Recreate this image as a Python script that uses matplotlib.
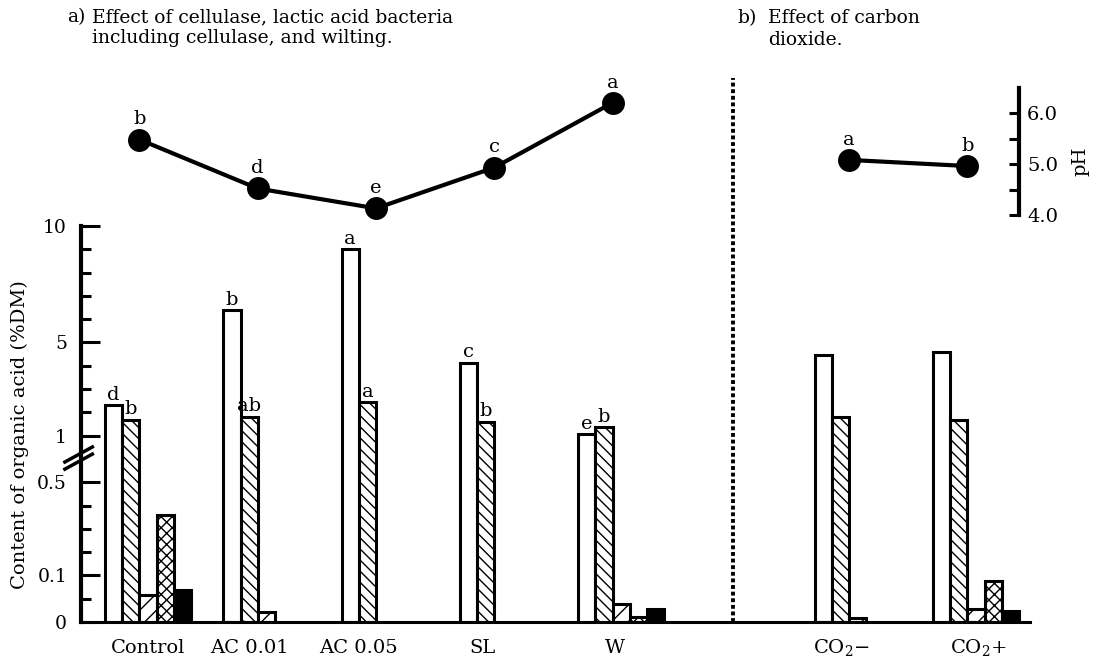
import numpy as np
import matplotlib
matplotlib.use("Agg")
import matplotlib.pyplot as plt
import matplotlib.transforms as mtransforms

plt.rcParams["font.family"] = "DejaVu Serif"
plt.rcParams["mathtext.fontset"] = "dejavuserif"
plt.rcParams["hatch.linewidth"] = 1.0

# treatments (gap between W and CO2 groups)
groups = ["Control", "AC 0.01", "AC 0.05", "SL", "W", "CO$_2$\u2212", "CO$_2$+"]
group_pos = np.array([0, 1, 2, 3, 4, 6, 7])

# organic acid content (%DM), one list per bar style, nan = not drawn
acid_open = [2.31, 6.39, 9.0, 4.13, 1.06, 4.46, 4.6]
acid_back = [1.67, 1.81, 2.43, 1.60, 1.36, 1.79, 1.67]
acid_fwd = [0.059, 0.022, np.nan, np.nan, 0.038, 0.009, 0.027]
acid_cross = [0.36, np.nan, np.nan, np.nan, 0.010, np.nan, 0.087]
acid_black = [0.069, np.nan, np.nan, np.nan, 0.027, np.nan, 0.024]

open_letters = ["d", "b", "a", "c", "e", "", ""]
back_letters = ["b", "ab", "a", "b", "b", "", ""]

# pH, panel a (first five groups) and panel b (CO2 groups)
ph_a = [5.48, 4.52, 4.13, 4.93, 6.20]
ph_a_letters = ["b", "d", "e", "c", "a"]
ph_b = [5.08, 4.96]
ph_b_letters = ["a", "b"]

# broken axis: piecewise linear scale
brk_vals = [0, 0.1, 0.5, 1, 10]
brk_pos = [0, 2, 6, 8, 17]


def fwd(v):
    return np.interp(v, brk_vals, brk_pos)


def inv(t):
    return np.interp(t, brk_pos, brk_vals)


fig = plt.figure(figsize=(10.93, 6.59), dpi=100)
L, W = 81 / 1093, 949 / 1093
ax = fig.add_axes([L, 37 / 659, W, 396 / 659])
ax2 = fig.add_axes([L, 444 / 659, W, 127.5 / 659])
ax.patch.set_alpha(0)
ax2.patch.set_alpha(0)

xlim = (-0.566, 7.456)
bar_w = 0.145

series = [
    (acid_open, "", "white"),
    (acid_back, "\\\\\\", "white"),
    (acid_fwd, "//", "white"),
    (acid_cross, "xxx", "white"),
    (acid_black, "", "black"),
]
for k, (vals, hatch, fc) in enumerate(series):
    vals = np.array(vals, dtype=float)
    x = group_pos + (k - 2) * bar_w
    m = ~np.isnan(vals)
    ax.bar(x[m], vals[m], width=bar_w, facecolor=fc, edgecolor="black",
           hatch=hatch, linewidth=2.2, zorder=2)

for k, letters, vals in [(0, open_letters, acid_open), (1, back_letters, acid_back)]:
    for g, s, v in zip(group_pos, letters, vals):
        if s:
            ax.annotate(s, (g + (k - 2) * bar_w, v), xytext=(0, 4),
                        textcoords="offset points", ha="center", va="baseline",
                        fontsize=14)

ax.set_yscale("function", functions=(fwd, inv))
ax.set_ylim(0, 10)
ax.set_xlim(*xlim)
ax.set_yticks([0, 0.1, 0.5, 1, 5, 10])
ax.set_yticklabels(["0", "0.1", "0.5", "1", "5", "10"])
ax.set_yticks([0.05, 0.2, 0.3, 0.4, 2, 3, 4, 6, 7, 8, 9], minor=True)
ax.tick_params(axis="y", which="major", direction="in", length=14, width=2.2,
               pad=10, labelsize=13.5)
ax.tick_params(axis="y", which="minor", direction="in", length=7, width=2.2)

# group names, placed on a common baseline
label_nudge = [0, -0.146, -0.225, -0.17, -0.05, -0.14, 0.02]
ax.set_xticks([])
xtrans = mtransforms.blended_transform_factory(ax.transData, ax.transAxes)
for g, nudge, name in zip(group_pos, label_nudge, groups):
    ax.text(g + nudge, -0.078, name, transform=xtrans, ha="center",
            va="baseline", fontsize=14)

for side in ["top", "right"]:
    ax.spines[side].set_visible(False)
ax.spines["left"].set_linewidth(3)
ax.spines["bottom"].set_linewidth(2.2)

ax.set_ylabel("Content of organic acid (%DM)", fontsize=14)
ax.yaxis.set_label_coords(-0.055, 0.472)

# break marks on the y axis
for dy in [0, -0.018]:
    ax.plot([-0.017, 0.012], [0.404 + dy, 0.442 + dy], transform=ax.transAxes,
            color="black", lw=2.5, clip_on=False, zorder=5)

# dashed separator between panels
ax.plot([4.945, 4.945], [0, 1.374], transform=xtrans, color="black", lw=2.8,
        dashes=(1.0, 0.7), clip_on=False)

# pH panel
ax2.set_xlim(*xlim)
ax2.set_ylim(4.0, 6.5)
for side in ["top", "left", "bottom"]:
    ax2.spines[side].set_visible(False)
ax2.spines["right"].set_position(("axes", 0.988))
ax2.spines["right"].set_linewidth(3)
ax2.set_xticks([])
ax2.yaxis.tick_right()
ax2.set_yticks([4.0, 5.0, 6.0])
ax2.set_yticklabels(["4.0", "5.0", "6.0"])
ax2.set_yticks([4.5, 5.5], minor=True)
ax2.tick_params(axis="y", which="both", direction="in", length=7, width=2.2,
                pad=6, labelsize=14)
ax2.yaxis.set_label_position("right")
ax2.set_ylabel("pH", fontsize=14, rotation=90)
ax2.yaxis.set_label_coords(1.044, 0.424)

px_a = group_pos[:5] - bar_w / 2
px_b = group_pos[5:] - bar_w / 2
for xs, ys, letters in [(px_a, ph_a, ph_a_letters), (px_b, ph_b, ph_b_letters)]:
    ax2.plot(xs, ys, color="black", lw=3, marker="o", markersize=15.5,
             clip_on=False)
    for x, y, s in zip(xs, ys, letters):
        ax2.annotate(s, (x, y), xytext=(0, 11), textcoords="offset points",
                     ha="center", va="baseline", fontsize=14)

# panel titles
fig.text(67 / 1093, 1 - 17 / 659, "a)", fontsize=13.5, va="center")
fig.text(92 / 1093, 1 - 17 / 659, "Effect of cellulase, lactic acid bacteria",
         fontsize=13.5, va="center")
fig.text(92 / 1093, 1 - 38 / 659, "including cellulase, and wilting.",
         fontsize=13.5, va="center")
fig.text(737 / 1093, 1 - 18 / 659, "b)", fontsize=13.5, va="center")
fig.text(768 / 1093, 1 - 18 / 659, "Effect of carbon", fontsize=13.5, va="center")
fig.text(768 / 1093, 1 - 40 / 659, "dioxide.", fontsize=13.5, va="center")

fig.savefig("out.png", dpi=100)
